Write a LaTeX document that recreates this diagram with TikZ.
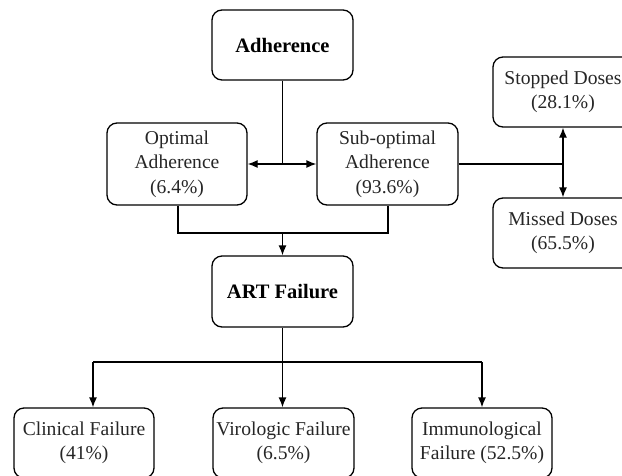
\documentclass[tikz,border=0pt]{standalone}
\usepackage{fontspec}
\setmainfont{Liberation Serif}
\usetikzlibrary{arrows.meta}
\begin{document}
\begin{tikzpicture}[x=1pt,y=-1pt,
  box/.style={draw, line width=1.3pt, rounded corners=10pt, align=center, inner sep=0pt,
    font=\fontsize{19.6}{24.5}\selectfont, text=black!85},
  boldbox/.style={box, font=\fontsize{20.5}{24}\selectfont\bfseries, text=black},
  conn/.style={line width=1.3pt},
  arr/.style={conn, -{Latex[length=10pt,width=8pt]}},
  darr/.style={conn, {Latex[length=10pt,width=8pt]}-{Latex[length=10pt,width=8pt]}}]
\useasboundingbox (0,0) rectangle (622,475);
\clip (0,0) rectangle (622,475);
\node[boldbox, minimum width=141pt, minimum height=70pt] (adh) at (282.5,45) {Adherence};
\node[box, minimum width=140pt, minimum height=82pt] (opt) at (177,164) {Optimal\\Adherence\\(6.4\%)};
\node[box, minimum width=141pt, minimum height=82pt] (sub) at (387.5,164) {Sub-optimal\\Adherence\\(93.6\%)};
\node[box, minimum width=140pt, minimum height=70pt] (stop) at (563,92) {Stopped Doses\\(28.1\%)};
\node[box, minimum width=140pt, minimum height=70pt] (miss) at (563,233) {Missed Doses\\(65.5\%)};
\node[boldbox, minimum width=141pt, minimum height=71pt] (art) at (282.5,291.5) {ART Failure};
\node[box, minimum width=140pt, minimum height=70pt] (cli) at (84,443) {Clinical Failure\\(41\%)};
\node[box, minimum width=141pt, minimum height=70pt] (vir) at (283.5,443) {Virologic Failure\\(6.5\%)};
\node[box, minimum width=140pt, minimum height=70pt] (imm) at (482,443) {Immunological\\Failure (52.5\%)};
% adherence split
\coordinate (j1) at (adh.south |- opt.east);
\draw[conn] (adh.south) -- (j1);
\draw[darr] (opt.east) -- (sub.west);
% sub-optimal split
\coordinate (j2) at (stop.south |- sub.east);
\draw[conn] (sub.east) -- (j2);
\draw[darr] (stop.south) -- (miss.north);
% merge to ART
\coordinate (ol) at (178,233);
\coordinate (sl) at (388,233);
\coordinate (mj) at (art.north |- ol);
\draw[conn] (opt.south -| ol) -- (ol) -- (sl) -- (sub.south -| sl);
\draw[arr] (mj) -- (art.north);
% ART to failures
\coordinate (fb) at (art.south |- 0,362);
\coordinate (fl) at (93,362);
\coordinate (fr) at (imm.north |- 0,362);
\draw[conn] (art.south) -- (fb);
\draw[conn] (fl) -- (fr);
\draw[arr] (fl) -- (fl |- cli.north);
\draw[arr] (fb) -- (fb |- vir.north);
\draw[arr] (fr) -- (imm.north);
\end{tikzpicture}
\end{document}
